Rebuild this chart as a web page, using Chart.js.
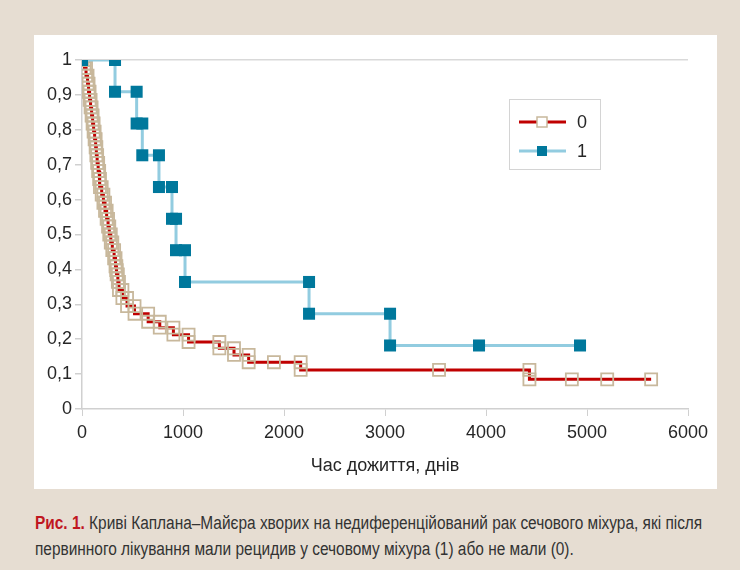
<!DOCTYPE html>
<html lang="uk">
<head>
<meta charset="utf-8">
<title>Криві Каплана–Майєра</title>
<script src="https://cdn.jsdelivr.net/npm/chart.js@4.4.1/dist/chart.umd.min.js"></script>
<style>
  html, body { margin: 0; padding: 0; }
  body {
    width: 740px; height: 570px; position: relative; overflow: hidden;
    background: #e6ddd2;
    font-family: "Liberation Sans", Arial, sans-serif;
  }
  #panel { position: absolute; left: 34px; top: 35px; width: 683px; height: 454px; background: #ffffff; }
  #panel canvas { display: block; }
  #caption {
    position: absolute; left: 35px; top: 510px;
    font-family: "Liberation Sans", Arial, sans-serif;
    font-size: 18px; line-height: 26px; color: #333333;
  }
  #caption span {
    display: block; white-space: nowrap;
    transform: scaleX(0.857); transform-origin: 0 50%;
  }
  #caption b { color: #c0161f; }
</style>
</head>
<body>
<div id="panel"><canvas id="km" width="683" height="454"></canvas></div>
<div id="caption">
  <span><b>Рис. 1.</b> Криві Каплана–Майєра хворих на недиференційований рак сечового міхура, які після</span>
  <span>первинного лікування мали рецидив у сечовому міхура (1) або не мали (0).</span>
</div>
<script>
// Group labels (legend)
const groupLabels = ['0', '1'];

// Group 0 (no recurrence): plotted KM points, days and survival share.
// Each event appears twice (level before and after the drop); censored cases once.
const days0 = [
  0, 25, 25, 40, 40, 55, 55, 65, 65, 75, 75, 85, 85, 95, 95, 105, 105,
  115, 115, 125, 125, 135, 135, 142, 142, 150, 150, 160, 160, 170, 170,
  178, 178, 195, 195, 212, 212, 228, 228, 244, 244, 258, 258, 270, 270,
  285, 285, 300, 300, 318, 318, 332, 332, 340, 340, 343, 343, 355, 355,
  366, 366, 400, 400, 446, 446, 520, 520, 655, 655, 770, 770, 905, 905,
  1055, 1055, 1360, 1360, 1505, 1505, 1650, 1650, 1900, 2165, 2165,
  3535, 4430, 4430, 4850, 5200, 5635
];
const surv0 = [
  1, 1, 0.977, 0.977, 0.955, 0.955, 0.932, 0.932, 0.909, 0.909, 0.886, 0.886, 0.864, 0.864, 0.841, 0.841, 0.818,
  0.818, 0.795, 0.795, 0.773, 0.773, 0.750, 0.750, 0.727, 0.727, 0.705, 0.705, 0.682, 0.682, 0.659,
  0.659, 0.636, 0.636, 0.614, 0.614, 0.591, 0.591, 0.568, 0.568, 0.545, 0.545, 0.523, 0.523, 0.500,
  0.500, 0.477, 0.477, 0.455, 0.455, 0.432, 0.432, 0.409, 0.409, 0.398, 0.398, 0.386, 0.386, 0.364,
  0.364, 0.341, 0.341, 0.318, 0.318, 0.295, 0.295, 0.273, 0.273, 0.250, 0.250, 0.233, 0.233, 0.213,
  0.213, 0.192, 0.192, 0.174, 0.174, 0.155, 0.155, 0.134, 0.134, 0.134, 0.112,
  0.112, 0.112, 0.085, 0.085, 0.085, 0.085
];

// Group 1 (recurrence): plotted KM points
const days1 = [0, 327, 327, 541, 541, 597, 597, 762, 762, 891, 891, 931, 931, 1020, 1020, 2248, 2248, 3050, 3050, 3931, 4931];
const surv1 = [1, 1, 0.909, 0.909, 0.818, 0.818, 0.727, 0.727, 0.636, 0.636, 0.545, 0.545, 0.455, 0.455, 0.364, 0.364, 0.273, 0.273, 0.182, 0.182, 0.182];

// Axis ticks
const xTicks = [0, 1000, 2000, 3000, 4000, 5000, 6000];
const yTicks = [0, 0.1, 0.2, 0.3, 0.4, 0.5, 0.6, 0.7, 0.8, 0.9, 1];
const xTitle = 'Час дожиття, днів';

const toPoints = (xs, ys) => xs.map((x, i) => ({ x, y: ys[i] }));
const fmtShare = v => (v === 0 || v === 1) ? String(v) : v.toFixed(1).replace('.', ',');

const FONT = '"Liberation Sans", Arial, sans-serif';
const TEXT = '#262626';
const AXIS = '#d0d0d0';

// Boxed legend inside the plot area
const boxLegend = {
  id: 'boxLegend',
  afterDraw(chart) {
    const ctx = chart.ctx;
    const area = chart.chartArea;
    const bx = area.left + 427, by = area.top + 39, bw = 91, bh = 70;
    ctx.save();
    ctx.strokeStyle = '#d4d4d4';
    ctx.lineWidth = 1;
    ctx.strokeRect(bx + 0.5, by + 0.5, bw, bh);
    chart.data.datasets.forEach((ds, i) => {
      const cy = by + 23 + i * 29;
      ctx.strokeStyle = ds.borderColor;
      ctx.lineWidth = 3;
      ctx.beginPath();
      ctx.moveTo(bx + 10, cy);
      ctx.lineTo(bx + 57, cy);
      ctx.stroke();
      const s = 10;
      if (ds.pointBackgroundColor !== 'transparent') {
        ctx.fillStyle = ds.pointBackgroundColor;
        ctx.fillRect(bx + 33 - s / 2, cy - s / 2, s, s);
      } else {
        ctx.fillStyle = '#ffffff';
        ctx.fillRect(bx + 33 - s / 2, cy - s / 2, s, s);
        ctx.strokeStyle = ds.pointBorderColor;
        ctx.lineWidth = 1.5;
        ctx.strokeRect(bx + 33 - s / 2, cy - s / 2, s, s);
      }
      ctx.fillStyle = TEXT;
      ctx.font = '18px ' + FONT;
      ctx.textBaseline = 'middle';
      ctx.textAlign = 'left';
      ctx.fillText(ds.label, bx + 68, cy + 1);
    });
    ctx.restore();
  }
};

new Chart(document.getElementById('km'), {
  type: 'scatter',
  data: {
    datasets: [
      {
        label: groupLabels[0],
        data: toPoints(days0, surv0),
        showLine: true,
        borderColor: '#c00000',
        borderWidth: 3,
        pointStyle: 'rect',
        pointRadius: 8.5,
        pointBorderWidth: 1.8,
        pointBorderColor: '#c8b89c',
        pointBackgroundColor: 'transparent',
        order: 1
      },
      {
        label: groupLabels[1],
        data: toPoints(days1, surv1),
        showLine: true,
        borderColor: '#92cce0',
        borderWidth: 3,
        pointStyle: 'rect',
        pointRadius: 8.5,
        pointBorderWidth: 0,
        pointBorderColor: '#00789c',
        pointBackgroundColor: '#00789c',
        order: 0
      }
    ]
  },
  plugins: [boxLegend],
  options: {
    responsive: false,
    animation: false,
    devicePixelRatio: 1,
    layout: { padding: { top: 25, right: 29, bottom: 0, left: 0 } },
    plugins: { legend: { display: false }, tooltip: { enabled: false } },
    elements: { line: { tension: 0 } },
    scales: {
      x: {
        type: 'linear',
        min: 0, max: 6000,
        afterBuildTicks: s => { s.ticks = xTicks.map(v => ({ value: v })); },
        afterFit: s => { s.height = 80; },
        ticks: { color: TEXT, font: { family: FONT, size: 18 }, padding: 6, maxRotation: 0, callback: v => String(v) },
        grid: { drawOnChartArea: false, drawTicks: true, tickLength: 7, color: AXIS, tickColor: AXIS },
        border: { color: AXIS, width: 1.5 },
        title: { display: true, text: xTitle, color: TEXT, font: { family: FONT, size: 18 }, padding: { top: 0, bottom: 12 } }
      },
      y: {
        min: 0, max: 1,
        afterBuildTicks: s => { s.ticks = yTicks.map(v => ({ value: v })); },
        afterFit: s => { s.width = 48; },
        ticks: { color: TEXT, font: { family: FONT, size: 18 }, padding: 3, callback: v => fmtShare(v) },
        grid: {
          drawOnChartArea: true, drawTicks: true, tickLength: 7,
          color: c => (c.tick && c.tick.value === 1) ? '#d9d9d9' : 'rgba(0,0,0,0)',
          tickColor: AXIS, lineWidth: 1.5
        },
        border: { color: AXIS, width: 1.5 }
      }
    }
  }
});
</script>
</body>
</html>
